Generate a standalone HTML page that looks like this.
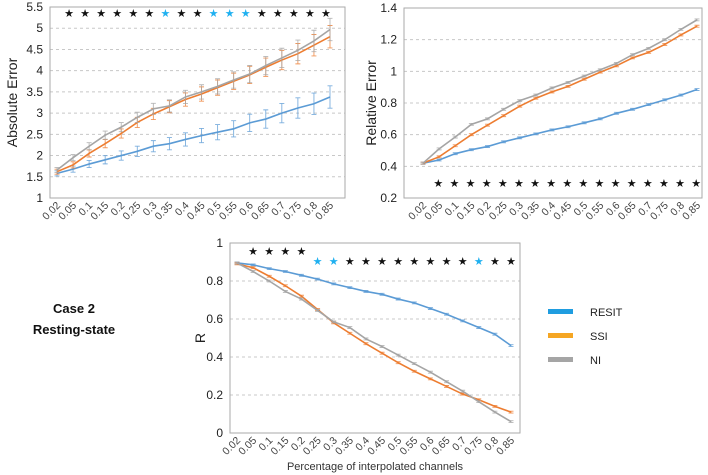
<!DOCTYPE html>
<html><head><meta charset="utf-8"><style>
body{margin:0;background:#fff;width:708px;height:475px;overflow:hidden}
svg{display:block;font-family:"Liberation Sans",sans-serif}
</style></head><body>
<svg id="s" width="708" height="475" xmlns="http://www.w3.org/2000/svg"></svg>
<script>
const xs=["0.02","0.05","0.1","0.15","0.2","0.25","0.3","0.35","0.4","0.45","0.5","0.55","0.6","0.65","0.7","0.75","0.8","0.85"];
const B="#5b9bd5",O="#ed7d31",G="#a5a5a5",SB="#1fb0f0";
let h="";
function chart(c){
 const {L,R,T,Bt,ymin,ymax,step,x0,x1,series,err,fmt,stars,ylab,ylx}=c;
 const Y=v=>Bt-(v-ymin)/(ymax-ymin)*(Bt-T);
 const X=i=>x0+i*(x1-x0)/17;
 for(let v=ymin;v<=ymax+1e-9;v+=step){
  const y=Y(v);
  if(v>ymin+1e-9&&v<ymax-1e-9)h+=`<line x1="${L}" x2="${R}" y1="${y}" y2="${y}" stroke="#c8c8c8" stroke-dasharray="3,3"/>`;
  h+=`<text x="${L-7}" y="${y+4}" font-size="12" text-anchor="end" fill="#222">${fmt(v)}</text>`;
 }
 h+=`<rect x="${L}" y="${T}" width="${R-L}" height="${Bt-T}" fill="none" stroke="#aaa"/>`;
 xs.forEach((t,i)=>{h+=`<text transform="translate(${X(i)+4},${Bt+8}) rotate(-45)" font-size="10.5" text-anchor="end" fill="#444">${t}</text>`;});
 series.forEach(([d,col])=>{
  let p=d.map((v,i)=>`${X(i)},${Y(v)}`).join(" ");
  h+=`<polyline points="${p}" fill="none" stroke="${col}" stroke-width="1.6"/>`;
  d.forEach((v,i)=>{const e=err(i),x=X(i);const a=Y(v+e),b=Y(v-e);
   h+=`<path d="M${x},${a}V${b}M${x-2.5},${a}h5M${x-2.5},${b}h5" stroke="${col}" stroke-width="0.9" opacity="0.8"/>`;});
 });
 stars.forEach(([i,y,col])=>{h+=`<text x="${X(i)}" y="${y+4}" font-size="11" text-anchor="middle" fill="${col}">★</text>`;});
 h+=`<text transform="translate(${ylx},${(T+Bt)/2}) rotate(-90)" font-size="14" text-anchor="middle" fill="#222">${ylab}</text>`;
}
const f1=v=>(Math.round(v*10)/10).toString();
chart({L:50,R:345,T:7,Bt:198,ymin:1,ymax:5.5,step:0.5,x0:57,x1:330,fmt:f1,ylab:"Absolute Error",ylx:17,
 err:i=>0.06+i*0.012,
 series:[[[1.58,1.68,1.8,1.9,2.0,2.1,2.22,2.28,2.38,2.47,2.55,2.63,2.77,2.86,3.0,3.12,3.22,3.38],B],
 [[1.62,1.78,2.05,2.28,2.52,2.78,2.98,3.15,3.32,3.45,3.6,3.75,3.9,4.08,4.25,4.4,4.6,4.8],O],
 [[1.66,1.95,2.22,2.48,2.67,2.9,3.1,3.17,3.38,3.5,3.63,3.78,3.92,4.12,4.3,4.48,4.7,4.97],G]],
 stars:[...Array(17)].map((_,k)=>{const i=k+1;return [i-0.25,13,[7,10,11,12].includes(i)?SB:"#111"]})});
chart({L:404,R:702,T:8,Bt:198,ymin:0.2,ymax:1.4,step:0.2,x0:423,x1:697,fmt:f1,ylab:"Relative Error",ylx:376,
 err:i=>0.006,
 series:[[[.42,.44,.48,.505,.525,.555,.58,.605,.63,.65,.675,.70,.735,.76,.79,.82,.85,.885],B],
 [[.42,.46,.53,.60,.66,.72,.78,.83,.87,.905,.95,.995,1.035,1.085,1.12,1.17,1.23,1.285],O],
 [[.42,.51,.585,.665,.70,.76,.815,.85,.895,.93,.97,1.01,1.05,1.105,1.145,1.2,1.265,1.325],G]],
 stars:[...Array(17)].map((_,k)=>[k+1-0.05,183,"#111"])});
chart({L:230,R:520,T:243,Bt:433,ymin:0,ymax:1,step:0.2,x0:237,x1:511,fmt:f1,ylab:"R",ylx:205,
 err:i=>0.005,
 series:[[[.895,.885,.865,.85,.83,.81,.785,.765,.745,.73,.705,.685,.655,.625,.59,.555,.52,.46],B],
 [[.89,.87,.825,.775,.72,.65,.58,.525,.47,.42,.37,.325,.285,.245,.205,.175,.14,.11],O],
 [[.895,.85,.80,.745,.705,.645,.585,.555,.495,.455,.41,.365,.32,.27,.22,.165,.11,.06],G]],
 stars:[...Array(17)].map((_,k)=>{const i=k+1;return [i,i<=4?251:261,[5,6,15].includes(i)?SB:"#111"]})});
h+=`<text x="375" y="470" font-size="11" text-anchor="middle" fill="#333">Percentage of interpolated channels</text>`;
h+=`<text x="74" y="313" font-size="13" font-weight="bold" text-anchor="middle" fill="#111">Case 2</text>`;
h+=`<text x="74" y="334" font-size="13" font-weight="bold" text-anchor="middle" fill="#111">Resting-state</text>`;
[["RESIT","#1f9de0",312],["SSI","#f5a623",336],["NI",G,360]].forEach(([t,c,y])=>{
 h+=`<rect x="548" y="${y-3}" width="25" height="5" fill="${c}"/><text x="590" y="${y+4}" font-size="11" fill="#222">${t}</text>`;});
document.getElementById("s").innerHTML=h;
</script>
</body></html>
